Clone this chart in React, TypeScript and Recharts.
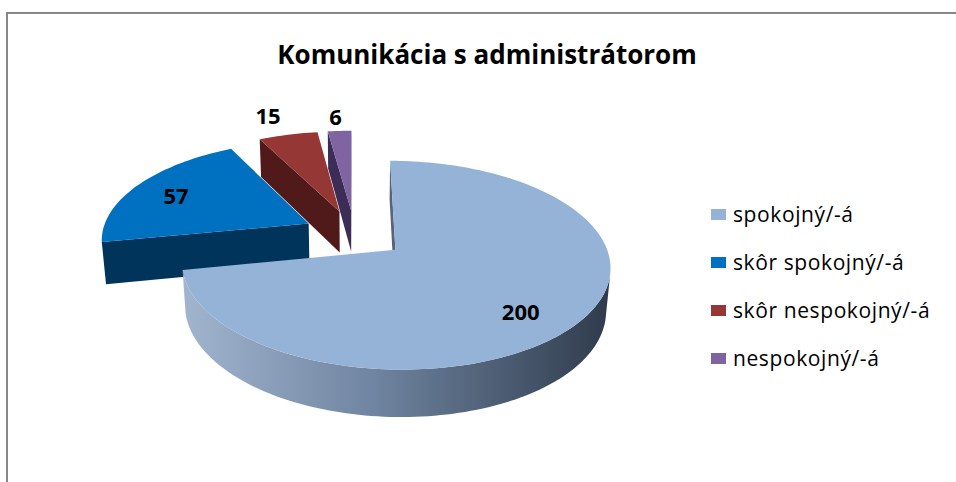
import { PieChart, Pie, Legend } from 'recharts';

const categories = ['spokojný/-á', 'skôr spokojný/-á', 'skôr nespokojný/-á', 'nespokojný/-á'];
const counts = [200, 57, 15, 6];

const topColors = ['#95b3d7', '#0070c0', '#953735', '#8064a2'];
const sideColors = ['#56657a', '#00345a', '#4f1a19', '#3b2d55'];

const data = categories.map((name, idx) => ({ name, value: counts[idx], idx }));

const FONT = '"Open Sans", "Noto Sans", sans-serif';

// fake 3D camera, in units of the pie radius
const VIEW_SIN = 0.46;
const VIEW_COS = 0.888;
const CAM_DIST = 6.18;
const SLAB = 0.2265;
const Y_SCALE = 1.024;
const EXPLODE = 0.25;
const RAD = Math.PI / 180;
const CAM_V = -CAM_DIST * VIEW_COS;

const labelReach = [0.7, 0.77, 1.3, 1.22];
const labelNudge = [
  [0, 12],
  [0, 2],
  [-7, 0],
  [-2, 0],
];

type Pt = [number, number];

const project = (p: any, u: number, v: number, h: number): Pt => {
  const z = CAM_DIST + v * VIEW_COS - h * VIEW_SIN;
  const s = CAM_DIST / z;
  return [
    p.cx + p.outerRadius * u * s,
    p.cy - p.outerRadius * Y_SCALE * s * (v * VIEW_SIN + h * VIEW_COS),
  ];
};

const sliceIndex = (p: any) => p.payload?.idx ?? p.idx ?? p.index ?? 0;

// angles clockwise from 12 o'clock, like the spreadsheet pie
const sliceGeometry = (p: any) => {
  const t0 = 90 - p.startAngle;
  const t1 = 90 - p.endAngle;
  const mid = ((t0 + t1) / 2) * RAD;
  return { t0, t1, vu: EXPLODE * Math.sin(mid), vv: EXPLODE * Math.cos(mid) };
};

const rim = (vu: number, vv: number, theta: number): Pt => [
  vu + Math.sin(theta * RAD),
  vv + Math.cos(theta * RAD),
];

const thetas = (a: number, b: number) => {
  const n = Math.max(2, Math.ceil(Math.abs(b - a) / 1.5));
  const out: number[] = [];
  for (let i = 0; i <= n; i++) out.push(a + ((b - a) * i) / n);
  return out;
};

const toPath = (pts: Pt[]) =>
  'M' + pts.map(([x, y]) => `${x.toFixed(2)},${y.toFixed(2)}`).join('L') + 'Z';

const sideFaces = (p: any) => {
  const idx = sliceIndex(p);
  const { t0, t1, vu, vv } = sliceGeometry(p);
  const faces: { d: string; fill: string }[] = [];
  const radial = (theta: number, nu: number, nv: number) => {
    if (nu * (0 - vu) + nv * (CAM_V - vv) <= 0) return;
    const [ou, ov] = rim(vu, vv, theta);
    faces.push({
      d: toPath([
        project(p, vu, vv, 0),
        project(p, ou, ov, 0),
        project(p, ou, ov, -SLAB),
        project(p, vu, vv, -SLAB),
      ]),
      fill: sideColors[idx],
    });
  };
  radial(t0, -Math.cos(t0 * RAD), Math.sin(t0 * RAD));
  radial(t1, Math.cos(t1 * RAD), -Math.sin(t1 * RAD));

  const seen = thetas(t0, t1).filter((t) => {
    const [ou, ov] = rim(vu, vv, t);
    return Math.sin(t * RAD) * (0 - ou) + Math.cos(t * RAD) * (CAM_V - ov) > 0;
  });
  if (seen.length > 1) {
    const top = seen.map((t) => {
      const [ou, ov] = rim(vu, vv, t);
      return project(p, ou, ov, 0);
    });
    const bottom = seen
      .map((t) => {
        const [ou, ov] = rim(vu, vv, t);
        return project(p, ou, ov, -SLAB);
      })
      .reverse();
    faces.push({ d: toPath([...top, ...bottom]), fill: idx === 0 ? 'url(#bigSliceWall)' : sideColors[idx] });
  }
  return faces;
};

const makeSideShape = (wanted: (i: number) => boolean) => (props: any) => {
  const idx = sliceIndex(props);
  if (!wanted(idx)) return <g />;
  return (
    <g>
      {idx === 0 && (
        <defs>
          <linearGradient id="bigSliceWall" x1="0" y1="0" x2="1" y2="0">
            <stop offset="0" stopColor="#a2b5cf" />
            <stop offset="0.45" stopColor="#6f84a0" />
            <stop offset="1" stopColor="#2f3b4c" />
          </linearGradient>
        </defs>
      )}
      {sideFaces(props).map((f, k) => (
        <path key={k} d={f.d} fill={f.fill} />
      ))}
    </g>
  );
};

const BackSides = makeSideShape((i) => i !== 0);
const FrontSide = makeSideShape((i) => i === 0);

const TopShape = (props: any) => {
  const idx = sliceIndex(props);
  const { t0, t1, vu, vv } = sliceGeometry(props);
  const pts: Pt[] = [
    project(props, vu, vv, 0),
    ...thetas(t0, t1).map((t) => {
      const [ou, ov] = rim(vu, vv, t);
      return project(props, ou, ov, 0);
    }),
  ];
  return <path d={toPath(pts)} fill={topColors[idx]} />;
};

const renderValueLabel = (props: any) => {
  const idx = sliceIndex(props);
  const { t0, t1, vu, vv } = sliceGeometry(props);
  const mid = ((t0 + t1) / 2) * RAD;
  const f = labelReach[idx];
  const [x, y] = project(props, vu + f * Math.sin(mid), vv + f * Math.cos(mid), 0);
  return (
    <text
      key={idx}
      x={x + labelNudge[idx][0]}
      y={y + labelNudge[idx][1]}
      textAnchor="middle"
      dominantBaseline="central"
      fontFamily={FONT}
      fontWeight={700}
      fontSize={22}
      fill="#000"
    >
      {counts[idx]}
    </text>
  );
};

const LegendList = () => (
  <div style={{ fontFamily: FONT, fontSize: 21, color: '#000', letterSpacing: 0.6 }}>
    {categories.map((name, i) => (
      <div key={name} style={{ display: 'flex', alignItems: 'center', height: 48 }}>
        <span
          style={{ display: 'inline-block', width: 15, height: 11, background: topColors[i], marginRight: 7 }}
        />
        <span>{name}</span>
      </div>
    ))}
  </div>
);

const pieProps = {
  data,
  dataKey: 'value',
  nameKey: 'name',
  cx: 354.5,
  cy: 234,
  outerRadius: 207,
  startAngle: 90,
  endAngle: -270,
  stroke: 'none',
  isAnimationActive: false,
};

const App = () => {
  return (
    <div style={{ position: 'absolute', left: 0, top: 0, width: 956, height: 482, overflow: 'hidden', background: '#fff' }}>
      <div
        style={{
          position: 'absolute',
          left: 6,
          top: 12,
          width: 950,
          height: 470,
          borderLeft: '2px solid #878787',
          borderTop: '2px solid #878787',
          boxSizing: 'border-box',
        }}
      />
      <div
        style={{
          position: 'absolute',
          left: 487,
          top: 37,
          transform: 'translateX(-50%)',
          whiteSpace: 'nowrap',
          fontFamily: FONT,
          fontWeight: 700,
          fontSize: 26,
          lineHeight: '34px',
          color: '#000',
        }}
      >
        Komunikácia s administrátorom
      </div>
      <div style={{ position: 'absolute', left: 0, top: 0 }}>
        <PieChart width={956} height={482} margin={{ top: 0, right: 0, bottom: 0, left: 0 }}>
          <Pie {...pieProps} shape={BackSides} legendType="none" />
          <Pie {...pieProps} shape={FrontSide} legendType="none" />
          <Pie {...pieProps} shape={TopShape} label={renderValueLabel} labelLine={false} />
          <Legend
            content={() => <LegendList />}
            wrapperStyle={{ position: 'absolute', left: 711, top: 190, width: 245 }}
          />
        </PieChart>
      </div>
    </div>
  );
};

export default App;
